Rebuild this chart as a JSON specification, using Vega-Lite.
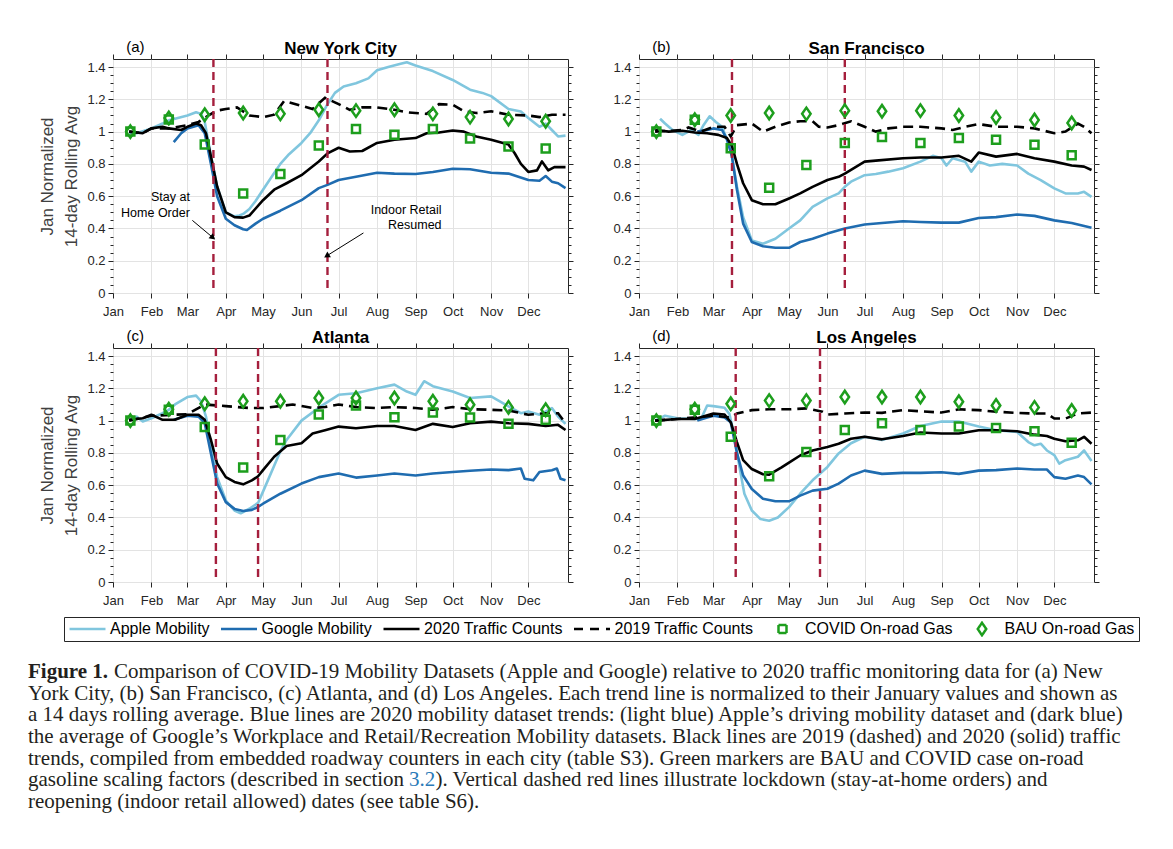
{
"$schema": "https://vega.github.io/schema/vega-lite/v6.json",
"usermeta": {"embedOptions": {"actions": false}},
"background": "white",
"padding": {"left": 28, "top": 39, "right": 5, "bottom": 5},
"config": {
  "font": "Liberation Sans",
  "view": {"stroke": "#262626", "strokeWidth": 1},
  "axis": {"domain": false, "tickColor": "#262626", "tickWidth": 1, "tickSize": 5, "labelColor": "#262626", "labelFontSize": 13, "labelFont": "Liberation Sans", "gridColor": "#e3e3e3", "gridWidth": 1, "titleFont": "Liberation Sans", "titleFontWeight": "normal", "titleColor": "#404040", "titleFontSize": 17}
},
"datasets": {
"events": [
{"city":"NYC","date":"2020-03-22"},{"city":"NYC","date":"2020-06-22"},
{"city":"SF","date":"2020-03-16"},{"city":"SF","date":"2020-06-15"},
{"city":"ATL","date":"2020-03-24"},{"city":"ATL","date":"2020-04-27"},
{"city":"LA","date":"2020-03-19"},{"city":"LA","date":"2020-05-26"}
],
"panels": [
{"city":"NYC","label":"(a)","title":"New York City"},{"city":"SF","label":"(b)","title":"San Francisco"},{"city":"ATL","label":"(c)","title":"Atlanta"},{"city":"LA","label":"(d)","title":"Los Angeles"}
],
"notes": [
{"text":"Stay at","date":"2020-03-03","value":0.596},
{"text":"Home Order","date":"2020-03-03","value":0.496},
{"text":"Indoor Retail","date":"2020-09-22","value":0.513},
{"text":"Resumed","date":"2020-09-22","value":0.42}
],
"arrows": [
{"id":1,"date":"2020-03-05","value":0.45,"date2":"2020-03-21","value2":0.347},
{"id":2,"date":"2020-07-21","value":0.372,"date2":"2020-06-22","value2":0.233}
],
"caption": [
{"line":1,"part":"bold","text":"Figure 1."},
{"line":1,"part":"first","text":"Comparison of COVID-19 Mobility Datasets (Apple and Google) relative to 2020 traffic monitoring data for (a) New"},
{"line":2,"part":"body","text":"York City, (b) San Francisco, (c) Atlanta, and (d) Los Angeles. Each trend line is normalized to their January values and shown as"},
{"line":3,"part":"body","text":"a 14 days rolling average. Blue lines are 2020 mobility dataset trends: (light blue) Apple’s driving mobility dataset and (dark blue)"},
{"line":4,"part":"body","text":"the average of Google’s Workplace and Retail/Recreation Mobility datasets. Black lines are 2019 (dashed) and 2020 (solid) traffic"},
{"line":5,"part":"body","text":"trends, compiled from embedded roadway counters in each city (table S3). Green markers are BAU and COVID case on-road"},
{"line":6,"part":"body","text":"gasoline scaling factors (described in section"},
{"line":6,"part":"link","text":"3.2"},
{"line":6,"part":"after","text":"). Vertical dashed red lines illustrate lockdown (stay-at-home orders) and"},
{"line":7,"part":"body","text":"reopening (indoor retail allowed) dates (see table S6)."}
],
"series": [
{"city":"NYC","series":"Apple Mobility","date":"2020-01-14","value":0.99},
{"city":"NYC","series":"Apple Mobility","date":"2020-01-20","value":0.99},
{"city":"NYC","series":"Apple Mobility","date":"2020-02-01","value":1.02},
{"city":"NYC","series":"Apple Mobility","date":"2020-02-10","value":1.05},
{"city":"NYC","series":"Apple Mobility","date":"2020-02-15","value":1.07},
{"city":"NYC","series":"Apple Mobility","date":"2020-02-20","value":1.08},
{"city":"NYC","series":"Apple Mobility","date":"2020-03-01","value":1.10},
{"city":"NYC","series":"Apple Mobility","date":"2020-03-08","value":1.12},
{"city":"NYC","series":"Apple Mobility","date":"2020-03-12","value":1.11},
{"city":"NYC","series":"Apple Mobility","date":"2020-03-15","value":1.06},
{"city":"NYC","series":"Apple Mobility","date":"2020-03-20","value":0.85},
{"city":"NYC","series":"Apple Mobility","date":"2020-03-25","value":0.66},
{"city":"NYC","series":"Apple Mobility","date":"2020-04-01","value":0.50},
{"city":"NYC","series":"Apple Mobility","date":"2020-04-08","value":0.475},
{"city":"NYC","series":"Apple Mobility","date":"2020-04-12","value":0.48},
{"city":"NYC","series":"Apple Mobility","date":"2020-04-15","value":0.49},
{"city":"NYC","series":"Apple Mobility","date":"2020-04-20","value":0.52},
{"city":"NYC","series":"Apple Mobility","date":"2020-04-25","value":0.57},
{"city":"NYC","series":"Apple Mobility","date":"2020-05-01","value":0.64},
{"city":"NYC","series":"Apple Mobility","date":"2020-05-08","value":0.72},
{"city":"NYC","series":"Apple Mobility","date":"2020-05-15","value":0.80},
{"city":"NYC","series":"Apple Mobility","date":"2020-05-22","value":0.86},
{"city":"NYC","series":"Apple Mobility","date":"2020-06-01","value":0.93},
{"city":"NYC","series":"Apple Mobility","date":"2020-06-08","value":0.99},
{"city":"NYC","series":"Apple Mobility","date":"2020-06-15","value":1.07},
{"city":"NYC","series":"Apple Mobility","date":"2020-06-22","value":1.17},
{"city":"NYC","series":"Apple Mobility","date":"2020-06-28","value":1.24},
{"city":"NYC","series":"Apple Mobility","date":"2020-07-05","value":1.28},
{"city":"NYC","series":"Apple Mobility","date":"2020-07-15","value":1.30},
{"city":"NYC","series":"Apple Mobility","date":"2020-07-25","value":1.33},
{"city":"NYC","series":"Apple Mobility","date":"2020-08-01","value":1.38},
{"city":"NYC","series":"Apple Mobility","date":"2020-08-10","value":1.40},
{"city":"NYC","series":"Apple Mobility","date":"2020-08-20","value":1.42},
{"city":"NYC","series":"Apple Mobility","date":"2020-08-25","value":1.43},
{"city":"NYC","series":"Apple Mobility","date":"2020-09-01","value":1.41},
{"city":"NYC","series":"Apple Mobility","date":"2020-09-15","value":1.375},
{"city":"NYC","series":"Apple Mobility","date":"2020-10-01","value":1.32},
{"city":"NYC","series":"Apple Mobility","date":"2020-10-15","value":1.26},
{"city":"NYC","series":"Apple Mobility","date":"2020-10-25","value":1.24},
{"city":"NYC","series":"Apple Mobility","date":"2020-11-01","value":1.22},
{"city":"NYC","series":"Apple Mobility","date":"2020-11-15","value":1.14},
{"city":"NYC","series":"Apple Mobility","date":"2020-11-25","value":1.125},
{"city":"NYC","series":"Apple Mobility","date":"2020-12-01","value":1.085},
{"city":"NYC","series":"Apple Mobility","date":"2020-12-10","value":1.03},
{"city":"NYC","series":"Apple Mobility","date":"2020-12-15","value":1.05},
{"city":"NYC","series":"Apple Mobility","date":"2020-12-20","value":1.01},
{"city":"NYC","series":"Apple Mobility","date":"2020-12-25","value":0.97},
{"city":"NYC","series":"Apple Mobility","date":"2020-12-31","value":0.975},
{"city":"NYC","series":"Google Mobility","date":"2020-02-19","value":0.935},
{"city":"NYC","series":"Google Mobility","date":"2020-02-25","value":0.99},
{"city":"NYC","series":"Google Mobility","date":"2020-03-01","value":1.02},
{"city":"NYC","series":"Google Mobility","date":"2020-03-10","value":1.04},
{"city":"NYC","series":"Google Mobility","date":"2020-03-15","value":0.99},
{"city":"NYC","series":"Google Mobility","date":"2020-03-20","value":0.80},
{"city":"NYC","series":"Google Mobility","date":"2020-03-25","value":0.60},
{"city":"NYC","series":"Google Mobility","date":"2020-04-01","value":0.46},
{"city":"NYC","series":"Google Mobility","date":"2020-04-08","value":0.42},
{"city":"NYC","series":"Google Mobility","date":"2020-04-15","value":0.395},
{"city":"NYC","series":"Google Mobility","date":"2020-04-18","value":0.39},
{"city":"NYC","series":"Google Mobility","date":"2020-04-25","value":0.43},
{"city":"NYC","series":"Google Mobility","date":"2020-05-01","value":0.46},
{"city":"NYC","series":"Google Mobility","date":"2020-05-15","value":0.51},
{"city":"NYC","series":"Google Mobility","date":"2020-06-01","value":0.575},
{"city":"NYC","series":"Google Mobility","date":"2020-06-15","value":0.65},
{"city":"NYC","series":"Google Mobility","date":"2020-06-22","value":0.67},
{"city":"NYC","series":"Google Mobility","date":"2020-07-01","value":0.70},
{"city":"NYC","series":"Google Mobility","date":"2020-07-15","value":0.72},
{"city":"NYC","series":"Google Mobility","date":"2020-08-01","value":0.745},
{"city":"NYC","series":"Google Mobility","date":"2020-08-15","value":0.74},
{"city":"NYC","series":"Google Mobility","date":"2020-09-01","value":0.737},
{"city":"NYC","series":"Google Mobility","date":"2020-09-15","value":0.75},
{"city":"NYC","series":"Google Mobility","date":"2020-10-01","value":0.77},
{"city":"NYC","series":"Google Mobility","date":"2020-10-15","value":0.767},
{"city":"NYC","series":"Google Mobility","date":"2020-11-01","value":0.745},
{"city":"NYC","series":"Google Mobility","date":"2020-11-15","value":0.74},
{"city":"NYC","series":"Google Mobility","date":"2020-12-01","value":0.70},
{"city":"NYC","series":"Google Mobility","date":"2020-12-10","value":0.696},
{"city":"NYC","series":"Google Mobility","date":"2020-12-15","value":0.725},
{"city":"NYC","series":"Google Mobility","date":"2020-12-20","value":0.69},
{"city":"NYC","series":"Google Mobility","date":"2020-12-25","value":0.68},
{"city":"NYC","series":"Google Mobility","date":"2020-12-31","value":0.65},
{"city":"NYC","series":"2020 Traffic Counts","date":"2020-01-14","value":1.0},
{"city":"NYC","series":"2020 Traffic Counts","date":"2020-01-25","value":0.99},
{"city":"NYC","series":"2020 Traffic Counts","date":"2020-02-01","value":1.02},
{"city":"NYC","series":"2020 Traffic Counts","date":"2020-02-10","value":1.03},
{"city":"NYC","series":"2020 Traffic Counts","date":"2020-02-15","value":1.02},
{"city":"NYC","series":"2020 Traffic Counts","date":"2020-02-25","value":1.01},
{"city":"NYC","series":"2020 Traffic Counts","date":"2020-03-01","value":1.03},
{"city":"NYC","series":"2020 Traffic Counts","date":"2020-03-08","value":1.05},
{"city":"NYC","series":"2020 Traffic Counts","date":"2020-03-12","value":1.04},
{"city":"NYC","series":"2020 Traffic Counts","date":"2020-03-16","value":0.99},
{"city":"NYC","series":"2020 Traffic Counts","date":"2020-03-20","value":0.845},
{"city":"NYC","series":"2020 Traffic Counts","date":"2020-03-25","value":0.66},
{"city":"NYC","series":"2020 Traffic Counts","date":"2020-04-01","value":0.50},
{"city":"NYC","series":"2020 Traffic Counts","date":"2020-04-08","value":0.47},
{"city":"NYC","series":"2020 Traffic Counts","date":"2020-04-15","value":0.467},
{"city":"NYC","series":"2020 Traffic Counts","date":"2020-04-20","value":0.48},
{"city":"NYC","series":"2020 Traffic Counts","date":"2020-05-01","value":0.575},
{"city":"NYC","series":"2020 Traffic Counts","date":"2020-05-10","value":0.64},
{"city":"NYC","series":"2020 Traffic Counts","date":"2020-05-20","value":0.68},
{"city":"NYC","series":"2020 Traffic Counts","date":"2020-06-01","value":0.73},
{"city":"NYC","series":"2020 Traffic Counts","date":"2020-06-15","value":0.815},
{"city":"NYC","series":"2020 Traffic Counts","date":"2020-06-22","value":0.865},
{"city":"NYC","series":"2020 Traffic Counts","date":"2020-07-01","value":0.90},
{"city":"NYC","series":"2020 Traffic Counts","date":"2020-07-10","value":0.877},
{"city":"NYC","series":"2020 Traffic Counts","date":"2020-07-20","value":0.88},
{"city":"NYC","series":"2020 Traffic Counts","date":"2020-08-01","value":0.93},
{"city":"NYC","series":"2020 Traffic Counts","date":"2020-08-15","value":0.95},
{"city":"NYC","series":"2020 Traffic Counts","date":"2020-09-01","value":0.96},
{"city":"NYC","series":"2020 Traffic Counts","date":"2020-09-10","value":0.99},
{"city":"NYC","series":"2020 Traffic Counts","date":"2020-09-20","value":0.995},
{"city":"NYC","series":"2020 Traffic Counts","date":"2020-10-01","value":1.007},
{"city":"NYC","series":"2020 Traffic Counts","date":"2020-10-10","value":1.0},
{"city":"NYC","series":"2020 Traffic Counts","date":"2020-10-20","value":0.97},
{"city":"NYC","series":"2020 Traffic Counts","date":"2020-11-01","value":0.95},
{"city":"NYC","series":"2020 Traffic Counts","date":"2020-11-15","value":0.92},
{"city":"NYC","series":"2020 Traffic Counts","date":"2020-11-20","value":0.866},
{"city":"NYC","series":"2020 Traffic Counts","date":"2020-11-25","value":0.80},
{"city":"NYC","series":"2020 Traffic Counts","date":"2020-12-01","value":0.75},
{"city":"NYC","series":"2020 Traffic Counts","date":"2020-12-08","value":0.76},
{"city":"NYC","series":"2020 Traffic Counts","date":"2020-12-12","value":0.815},
{"city":"NYC","series":"2020 Traffic Counts","date":"2020-12-17","value":0.76},
{"city":"NYC","series":"2020 Traffic Counts","date":"2020-12-22","value":0.78},
{"city":"NYC","series":"2020 Traffic Counts","date":"2020-12-31","value":0.78},
{"city":"NYC","series":"2019 Traffic Counts","date":"2020-01-14","value":1.0},
{"city":"NYC","series":"2019 Traffic Counts","date":"2020-01-25","value":0.99},
{"city":"NYC","series":"2019 Traffic Counts","date":"2020-02-01","value":1.02},
{"city":"NYC","series":"2019 Traffic Counts","date":"2020-02-15","value":1.02},
{"city":"NYC","series":"2019 Traffic Counts","date":"2020-03-01","value":1.04},
{"city":"NYC","series":"2019 Traffic Counts","date":"2020-03-10","value":1.06},
{"city":"NYC","series":"2019 Traffic Counts","date":"2020-03-18","value":1.10},
{"city":"NYC","series":"2019 Traffic Counts","date":"2020-03-25","value":1.13},
{"city":"NYC","series":"2019 Traffic Counts","date":"2020-04-01","value":1.14},
{"city":"NYC","series":"2019 Traffic Counts","date":"2020-04-10","value":1.15},
{"city":"NYC","series":"2019 Traffic Counts","date":"2020-04-20","value":1.10},
{"city":"NYC","series":"2019 Traffic Counts","date":"2020-05-01","value":1.09},
{"city":"NYC","series":"2019 Traffic Counts","date":"2020-05-10","value":1.105},
{"city":"NYC","series":"2019 Traffic Counts","date":"2020-05-18","value":1.19},
{"city":"NYC","series":"2019 Traffic Counts","date":"2020-06-01","value":1.16},
{"city":"NYC","series":"2019 Traffic Counts","date":"2020-06-10","value":1.14},
{"city":"NYC","series":"2019 Traffic Counts","date":"2020-06-20","value":1.21},
{"city":"NYC","series":"2019 Traffic Counts","date":"2020-07-01","value":1.17},
{"city":"NYC","series":"2019 Traffic Counts","date":"2020-07-10","value":1.135},
{"city":"NYC","series":"2019 Traffic Counts","date":"2020-07-20","value":1.15},
{"city":"NYC","series":"2019 Traffic Counts","date":"2020-08-01","value":1.15},
{"city":"NYC","series":"2019 Traffic Counts","date":"2020-08-15","value":1.135},
{"city":"NYC","series":"2019 Traffic Counts","date":"2020-08-25","value":1.12},
{"city":"NYC","series":"2019 Traffic Counts","date":"2020-09-01","value":1.115},
{"city":"NYC","series":"2019 Traffic Counts","date":"2020-09-10","value":1.11},
{"city":"NYC","series":"2019 Traffic Counts","date":"2020-09-20","value":1.17},
{"city":"NYC","series":"2019 Traffic Counts","date":"2020-10-01","value":1.167},
{"city":"NYC","series":"2019 Traffic Counts","date":"2020-10-10","value":1.126},
{"city":"NYC","series":"2019 Traffic Counts","date":"2020-10-20","value":1.115},
{"city":"NYC","series":"2019 Traffic Counts","date":"2020-11-01","value":1.126},
{"city":"NYC","series":"2019 Traffic Counts","date":"2020-11-15","value":1.105},
{"city":"NYC","series":"2019 Traffic Counts","date":"2020-12-01","value":1.10},
{"city":"NYC","series":"2019 Traffic Counts","date":"2020-12-10","value":1.09},
{"city":"NYC","series":"2019 Traffic Counts","date":"2020-12-20","value":1.105},
{"city":"NYC","series":"2019 Traffic Counts","date":"2020-12-31","value":1.105},
{"city":"SF","series":"Apple Mobility","date":"2020-01-18","value":1.08},
{"city":"SF","series":"Apple Mobility","date":"2020-01-22","value":1.05},
{"city":"SF","series":"Apple Mobility","date":"2020-01-28","value":1.01},
{"city":"SF","series":"Apple Mobility","date":"2020-02-05","value":0.98},
{"city":"SF","series":"Apple Mobility","date":"2020-02-12","value":1.01},
{"city":"SF","series":"Apple Mobility","date":"2020-02-18","value":0.98},
{"city":"SF","series":"Apple Mobility","date":"2020-02-22","value":1.04},
{"city":"SF","series":"Apple Mobility","date":"2020-02-27","value":1.095},
{"city":"SF","series":"Apple Mobility","date":"2020-03-03","value":1.06},
{"city":"SF","series":"Apple Mobility","date":"2020-03-08","value":1.03},
{"city":"SF","series":"Apple Mobility","date":"2020-03-12","value":0.95},
{"city":"SF","series":"Apple Mobility","date":"2020-03-15","value":0.89},
{"city":"SF","series":"Apple Mobility","date":"2020-03-20","value":0.66},
{"city":"SF","series":"Apple Mobility","date":"2020-03-25","value":0.47},
{"city":"SF","series":"Apple Mobility","date":"2020-04-01","value":0.326},
{"city":"SF","series":"Apple Mobility","date":"2020-04-10","value":0.305},
{"city":"SF","series":"Apple Mobility","date":"2020-04-20","value":0.336},
{"city":"SF","series":"Apple Mobility","date":"2020-05-01","value":0.40},
{"city":"SF","series":"Apple Mobility","date":"2020-05-10","value":0.45},
{"city":"SF","series":"Apple Mobility","date":"2020-05-20","value":0.534},
{"city":"SF","series":"Apple Mobility","date":"2020-06-01","value":0.586},
{"city":"SF","series":"Apple Mobility","date":"2020-06-10","value":0.617},
{"city":"SF","series":"Apple Mobility","date":"2020-06-15","value":0.658},
{"city":"SF","series":"Apple Mobility","date":"2020-06-20","value":0.69},
{"city":"SF","series":"Apple Mobility","date":"2020-07-01","value":0.73},
{"city":"SF","series":"Apple Mobility","date":"2020-07-10","value":0.737},
{"city":"SF","series":"Apple Mobility","date":"2020-07-20","value":0.752},
{"city":"SF","series":"Apple Mobility","date":"2020-08-01","value":0.773},
{"city":"SF","series":"Apple Mobility","date":"2020-08-15","value":0.814},
{"city":"SF","series":"Apple Mobility","date":"2020-08-25","value":0.85},
{"city":"SF","series":"Apple Mobility","date":"2020-09-01","value":0.835},
{"city":"SF","series":"Apple Mobility","date":"2020-09-05","value":0.79},
{"city":"SF","series":"Apple Mobility","date":"2020-09-10","value":0.835},
{"city":"SF","series":"Apple Mobility","date":"2020-09-20","value":0.814},
{"city":"SF","series":"Apple Mobility","date":"2020-09-25","value":0.752},
{"city":"SF","series":"Apple Mobility","date":"2020-10-01","value":0.814},
{"city":"SF","series":"Apple Mobility","date":"2020-10-10","value":0.79},
{"city":"SF","series":"Apple Mobility","date":"2020-10-20","value":0.80},
{"city":"SF","series":"Apple Mobility","date":"2020-11-01","value":0.79},
{"city":"SF","series":"Apple Mobility","date":"2020-11-10","value":0.74},
{"city":"SF","series":"Apple Mobility","date":"2020-11-20","value":0.70},
{"city":"SF","series":"Apple Mobility","date":"2020-12-01","value":0.648},
{"city":"SF","series":"Apple Mobility","date":"2020-12-10","value":0.617},
{"city":"SF","series":"Apple Mobility","date":"2020-12-20","value":0.617},
{"city":"SF","series":"Apple Mobility","date":"2020-12-25","value":0.627},
{"city":"SF","series":"Apple Mobility","date":"2020-12-31","value":0.596},
{"city":"SF","series":"Google Mobility","date":"2020-02-17","value":1.0},
{"city":"SF","series":"Google Mobility","date":"2020-02-25","value":1.01},
{"city":"SF","series":"Google Mobility","date":"2020-03-01","value":1.02},
{"city":"SF","series":"Google Mobility","date":"2020-03-08","value":1.01},
{"city":"SF","series":"Google Mobility","date":"2020-03-12","value":0.95},
{"city":"SF","series":"Google Mobility","date":"2020-03-16","value":0.845},
{"city":"SF","series":"Google Mobility","date":"2020-03-20","value":0.64},
{"city":"SF","series":"Google Mobility","date":"2020-03-25","value":0.43},
{"city":"SF","series":"Google Mobility","date":"2020-04-01","value":0.316},
{"city":"SF","series":"Google Mobility","date":"2020-04-10","value":0.29},
{"city":"SF","series":"Google Mobility","date":"2020-04-20","value":0.28},
{"city":"SF","series":"Google Mobility","date":"2020-05-01","value":0.28},
{"city":"SF","series":"Google Mobility","date":"2020-05-10","value":0.316},
{"city":"SF","series":"Google Mobility","date":"2020-05-20","value":0.336},
{"city":"SF","series":"Google Mobility","date":"2020-06-01","value":0.368},
{"city":"SF","series":"Google Mobility","date":"2020-06-15","value":0.40},
{"city":"SF","series":"Google Mobility","date":"2020-07-01","value":0.424},
{"city":"SF","series":"Google Mobility","date":"2020-07-15","value":0.434},
{"city":"SF","series":"Google Mobility","date":"2020-08-01","value":0.445},
{"city":"SF","series":"Google Mobility","date":"2020-08-15","value":0.44},
{"city":"SF","series":"Google Mobility","date":"2020-09-01","value":0.436},
{"city":"SF","series":"Google Mobility","date":"2020-09-15","value":0.436},
{"city":"SF","series":"Google Mobility","date":"2020-10-01","value":0.465},
{"city":"SF","series":"Google Mobility","date":"2020-10-15","value":0.47},
{"city":"SF","series":"Google Mobility","date":"2020-11-01","value":0.486},
{"city":"SF","series":"Google Mobility","date":"2020-11-15","value":0.478},
{"city":"SF","series":"Google Mobility","date":"2020-12-01","value":0.45},
{"city":"SF","series":"Google Mobility","date":"2020-12-15","value":0.434},
{"city":"SF","series":"Google Mobility","date":"2020-12-31","value":0.405},
{"city":"SF","series":"2020 Traffic Counts","date":"2020-01-14","value":1.01},
{"city":"SF","series":"2020 Traffic Counts","date":"2020-01-25","value":1.0},
{"city":"SF","series":"2020 Traffic Counts","date":"2020-02-05","value":1.005},
{"city":"SF","series":"2020 Traffic Counts","date":"2020-02-15","value":0.995},
{"city":"SF","series":"2020 Traffic Counts","date":"2020-02-25","value":0.99},
{"city":"SF","series":"2020 Traffic Counts","date":"2020-03-05","value":0.98},
{"city":"SF","series":"2020 Traffic Counts","date":"2020-03-12","value":0.96},
{"city":"SF","series":"2020 Traffic Counts","date":"2020-03-16","value":0.91},
{"city":"SF","series":"2020 Traffic Counts","date":"2020-03-20","value":0.80},
{"city":"SF","series":"2020 Traffic Counts","date":"2020-03-25","value":0.68},
{"city":"SF","series":"2020 Traffic Counts","date":"2020-04-01","value":0.575},
{"city":"SF","series":"2020 Traffic Counts","date":"2020-04-10","value":0.55},
{"city":"SF","series":"2020 Traffic Counts","date":"2020-04-20","value":0.55},
{"city":"SF","series":"2020 Traffic Counts","date":"2020-05-01","value":0.586},
{"city":"SF","series":"2020 Traffic Counts","date":"2020-05-10","value":0.617},
{"city":"SF","series":"2020 Traffic Counts","date":"2020-05-20","value":0.658},
{"city":"SF","series":"2020 Traffic Counts","date":"2020-06-01","value":0.70},
{"city":"SF","series":"2020 Traffic Counts","date":"2020-06-10","value":0.72},
{"city":"SF","series":"2020 Traffic Counts","date":"2020-06-15","value":0.74},
{"city":"SF","series":"2020 Traffic Counts","date":"2020-07-01","value":0.814},
{"city":"SF","series":"2020 Traffic Counts","date":"2020-07-10","value":0.82},
{"city":"SF","series":"2020 Traffic Counts","date":"2020-08-01","value":0.835},
{"city":"SF","series":"2020 Traffic Counts","date":"2020-08-15","value":0.84},
{"city":"SF","series":"2020 Traffic Counts","date":"2020-09-01","value":0.84},
{"city":"SF","series":"2020 Traffic Counts","date":"2020-09-15","value":0.85},
{"city":"SF","series":"2020 Traffic Counts","date":"2020-09-25","value":0.814},
{"city":"SF","series":"2020 Traffic Counts","date":"2020-10-01","value":0.87},
{"city":"SF","series":"2020 Traffic Counts","date":"2020-10-15","value":0.845},
{"city":"SF","series":"2020 Traffic Counts","date":"2020-11-01","value":0.862},
{"city":"SF","series":"2020 Traffic Counts","date":"2020-11-15","value":0.835},
{"city":"SF","series":"2020 Traffic Counts","date":"2020-12-01","value":0.814},
{"city":"SF","series":"2020 Traffic Counts","date":"2020-12-15","value":0.79},
{"city":"SF","series":"2020 Traffic Counts","date":"2020-12-25","value":0.783},
{"city":"SF","series":"2020 Traffic Counts","date":"2020-12-31","value":0.762},
{"city":"SF","series":"2019 Traffic Counts","date":"2020-01-14","value":1.0},
{"city":"SF","series":"2019 Traffic Counts","date":"2020-02-05","value":1.01},
{"city":"SF","series":"2019 Traffic Counts","date":"2020-02-10","value":1.026},
{"city":"SF","series":"2019 Traffic Counts","date":"2020-02-20","value":1.0},
{"city":"SF","series":"2019 Traffic Counts","date":"2020-03-01","value":1.03},
{"city":"SF","series":"2019 Traffic Counts","date":"2020-03-10","value":1.03},
{"city":"SF","series":"2019 Traffic Counts","date":"2020-03-15","value":0.97},
{"city":"SF","series":"2019 Traffic Counts","date":"2020-03-20","value":1.04},
{"city":"SF","series":"2019 Traffic Counts","date":"2020-04-01","value":1.05},
{"city":"SF","series":"2019 Traffic Counts","date":"2020-04-10","value":1.0},
{"city":"SF","series":"2019 Traffic Counts","date":"2020-04-20","value":1.03},
{"city":"SF","series":"2019 Traffic Counts","date":"2020-05-01","value":1.057},
{"city":"SF","series":"2019 Traffic Counts","date":"2020-05-10","value":1.064},
{"city":"SF","series":"2019 Traffic Counts","date":"2020-05-20","value":1.064},
{"city":"SF","series":"2019 Traffic Counts","date":"2020-05-25","value":1.03},
{"city":"SF","series":"2019 Traffic Counts","date":"2020-06-01","value":1.026},
{"city":"SF","series":"2019 Traffic Counts","date":"2020-06-10","value":1.04},
{"city":"SF","series":"2019 Traffic Counts","date":"2020-06-20","value":1.064},
{"city":"SF","series":"2019 Traffic Counts","date":"2020-07-01","value":1.03},
{"city":"SF","series":"2019 Traffic Counts","date":"2020-07-10","value":1.0},
{"city":"SF","series":"2019 Traffic Counts","date":"2020-07-20","value":1.02},
{"city":"SF","series":"2019 Traffic Counts","date":"2020-08-01","value":1.03},
{"city":"SF","series":"2019 Traffic Counts","date":"2020-08-15","value":1.03},
{"city":"SF","series":"2019 Traffic Counts","date":"2020-09-01","value":1.02},
{"city":"SF","series":"2019 Traffic Counts","date":"2020-09-10","value":1.01},
{"city":"SF","series":"2019 Traffic Counts","date":"2020-09-20","value":1.03},
{"city":"SF","series":"2019 Traffic Counts","date":"2020-10-01","value":1.047},
{"city":"SF","series":"2019 Traffic Counts","date":"2020-10-15","value":1.03},
{"city":"SF","series":"2019 Traffic Counts","date":"2020-11-01","value":1.03},
{"city":"SF","series":"2019 Traffic Counts","date":"2020-11-15","value":1.02},
{"city":"SF","series":"2019 Traffic Counts","date":"2020-12-01","value":0.99},
{"city":"SF","series":"2019 Traffic Counts","date":"2020-12-10","value":1.0},
{"city":"SF","series":"2019 Traffic Counts","date":"2020-12-20","value":1.05},
{"city":"SF","series":"2019 Traffic Counts","date":"2020-12-25","value":1.03},
{"city":"SF","series":"2019 Traffic Counts","date":"2020-12-31","value":0.99},
{"city":"ATL","series":"Apple Mobility","date":"2020-01-14","value":1.005},
{"city":"ATL","series":"Apple Mobility","date":"2020-01-20","value":1.025},
{"city":"ATL","series":"Apple Mobility","date":"2020-01-25","value":0.995},
{"city":"ATL","series":"Apple Mobility","date":"2020-02-01","value":1.015},
{"city":"ATL","series":"Apple Mobility","date":"2020-02-10","value":1.046},
{"city":"ATL","series":"Apple Mobility","date":"2020-02-15","value":1.067},
{"city":"ATL","series":"Apple Mobility","date":"2020-02-20","value":1.10},
{"city":"ATL","series":"Apple Mobility","date":"2020-03-01","value":1.146},
{"city":"ATL","series":"Apple Mobility","date":"2020-03-08","value":1.155},
{"city":"ATL","series":"Apple Mobility","date":"2020-03-12","value":1.12},
{"city":"ATL","series":"Apple Mobility","date":"2020-03-16","value":1.025},
{"city":"ATL","series":"Apple Mobility","date":"2020-03-20","value":0.84},
{"city":"ATL","series":"Apple Mobility","date":"2020-03-25","value":0.65},
{"city":"ATL","series":"Apple Mobility","date":"2020-04-01","value":0.505},
{"city":"ATL","series":"Apple Mobility","date":"2020-04-08","value":0.443},
{"city":"ATL","series":"Apple Mobility","date":"2020-04-13","value":0.426},
{"city":"ATL","series":"Apple Mobility","date":"2020-04-20","value":0.454},
{"city":"ATL","series":"Apple Mobility","date":"2020-04-27","value":0.49},
{"city":"ATL","series":"Apple Mobility","date":"2020-05-01","value":0.56},
{"city":"ATL","series":"Apple Mobility","date":"2020-05-10","value":0.72},
{"city":"ATL","series":"Apple Mobility","date":"2020-05-15","value":0.81},
{"city":"ATL","series":"Apple Mobility","date":"2020-05-20","value":0.88},
{"city":"ATL","series":"Apple Mobility","date":"2020-06-01","value":1.0},
{"city":"ATL","series":"Apple Mobility","date":"2020-06-15","value":1.08},
{"city":"ATL","series":"Apple Mobility","date":"2020-07-01","value":1.16},
{"city":"ATL","series":"Apple Mobility","date":"2020-07-15","value":1.17},
{"city":"ATL","series":"Apple Mobility","date":"2020-08-01","value":1.20},
{"city":"ATL","series":"Apple Mobility","date":"2020-08-15","value":1.223},
{"city":"ATL","series":"Apple Mobility","date":"2020-08-25","value":1.18},
{"city":"ATL","series":"Apple Mobility","date":"2020-09-01","value":1.16},
{"city":"ATL","series":"Apple Mobility","date":"2020-09-08","value":1.244},
{"city":"ATL","series":"Apple Mobility","date":"2020-09-15","value":1.213},
{"city":"ATL","series":"Apple Mobility","date":"2020-10-01","value":1.18},
{"city":"ATL","series":"Apple Mobility","date":"2020-10-15","value":1.14},
{"city":"ATL","series":"Apple Mobility","date":"2020-11-01","value":1.15},
{"city":"ATL","series":"Apple Mobility","date":"2020-11-15","value":1.088},
{"city":"ATL","series":"Apple Mobility","date":"2020-11-25","value":1.046},
{"city":"ATL","series":"Apple Mobility","date":"2020-12-01","value":1.057},
{"city":"ATL","series":"Apple Mobility","date":"2020-12-10","value":1.036},
{"city":"ATL","series":"Apple Mobility","date":"2020-12-20","value":1.078},
{"city":"ATL","series":"Apple Mobility","date":"2020-12-25","value":1.025},
{"city":"ATL","series":"Apple Mobility","date":"2020-12-31","value":0.98},
{"city":"ATL","series":"Google Mobility","date":"2020-02-19","value":1.005},
{"city":"ATL","series":"Google Mobility","date":"2020-03-01","value":1.03},
{"city":"ATL","series":"Google Mobility","date":"2020-03-10","value":1.025},
{"city":"ATL","series":"Google Mobility","date":"2020-03-15","value":0.984},
{"city":"ATL","series":"Google Mobility","date":"2020-03-20","value":0.797},
{"city":"ATL","series":"Google Mobility","date":"2020-03-25","value":0.61},
{"city":"ATL","series":"Google Mobility","date":"2020-04-01","value":0.495},
{"city":"ATL","series":"Google Mobility","date":"2020-04-08","value":0.453},
{"city":"ATL","series":"Google Mobility","date":"2020-04-15","value":0.44},
{"city":"ATL","series":"Google Mobility","date":"2020-04-22","value":0.447},
{"city":"ATL","series":"Google Mobility","date":"2020-04-27","value":0.465},
{"city":"ATL","series":"Google Mobility","date":"2020-05-01","value":0.485},
{"city":"ATL","series":"Google Mobility","date":"2020-05-15","value":0.547},
{"city":"ATL","series":"Google Mobility","date":"2020-06-01","value":0.61},
{"city":"ATL","series":"Google Mobility","date":"2020-06-15","value":0.65},
{"city":"ATL","series":"Google Mobility","date":"2020-07-01","value":0.672},
{"city":"ATL","series":"Google Mobility","date":"2020-07-15","value":0.647},
{"city":"ATL","series":"Google Mobility","date":"2020-08-01","value":0.66},
{"city":"ATL","series":"Google Mobility","date":"2020-08-15","value":0.672},
{"city":"ATL","series":"Google Mobility","date":"2020-09-01","value":0.66},
{"city":"ATL","series":"Google Mobility","date":"2020-09-15","value":0.672},
{"city":"ATL","series":"Google Mobility","date":"2020-10-01","value":0.682},
{"city":"ATL","series":"Google Mobility","date":"2020-10-15","value":0.689},
{"city":"ATL","series":"Google Mobility","date":"2020-11-01","value":0.697},
{"city":"ATL","series":"Google Mobility","date":"2020-11-15","value":0.693},
{"city":"ATL","series":"Google Mobility","date":"2020-11-25","value":0.703},
{"city":"ATL","series":"Google Mobility","date":"2020-11-28","value":0.64},
{"city":"ATL","series":"Google Mobility","date":"2020-12-05","value":0.63},
{"city":"ATL","series":"Google Mobility","date":"2020-12-10","value":0.682},
{"city":"ATL","series":"Google Mobility","date":"2020-12-20","value":0.693},
{"city":"ATL","series":"Google Mobility","date":"2020-12-24","value":0.703},
{"city":"ATL","series":"Google Mobility","date":"2020-12-27","value":0.64},
{"city":"ATL","series":"Google Mobility","date":"2020-12-31","value":0.63},
{"city":"ATL","series":"2020 Traffic Counts","date":"2020-01-14","value":1.005},
{"city":"ATL","series":"2020 Traffic Counts","date":"2020-01-25","value":1.015},
{"city":"ATL","series":"2020 Traffic Counts","date":"2020-02-01","value":1.036},
{"city":"ATL","series":"2020 Traffic Counts","date":"2020-02-10","value":1.005},
{"city":"ATL","series":"2020 Traffic Counts","date":"2020-02-20","value":1.005},
{"city":"ATL","series":"2020 Traffic Counts","date":"2020-03-01","value":1.036},
{"city":"ATL","series":"2020 Traffic Counts","date":"2020-03-10","value":1.036},
{"city":"ATL","series":"2020 Traffic Counts","date":"2020-03-15","value":1.005},
{"city":"ATL","series":"2020 Traffic Counts","date":"2020-03-20","value":0.88},
{"city":"ATL","series":"2020 Traffic Counts","date":"2020-03-25","value":0.734},
{"city":"ATL","series":"2020 Traffic Counts","date":"2020-04-01","value":0.65},
{"city":"ATL","series":"2020 Traffic Counts","date":"2020-04-08","value":0.62},
{"city":"ATL","series":"2020 Traffic Counts","date":"2020-04-15","value":0.605},
{"city":"ATL","series":"2020 Traffic Counts","date":"2020-04-22","value":0.63},
{"city":"ATL","series":"2020 Traffic Counts","date":"2020-04-27","value":0.655},
{"city":"ATL","series":"2020 Traffic Counts","date":"2020-05-01","value":0.693},
{"city":"ATL","series":"2020 Traffic Counts","date":"2020-05-10","value":0.776},
{"city":"ATL","series":"2020 Traffic Counts","date":"2020-05-20","value":0.843},
{"city":"ATL","series":"2020 Traffic Counts","date":"2020-06-01","value":0.86},
{"city":"ATL","series":"2020 Traffic Counts","date":"2020-06-10","value":0.92},
{"city":"ATL","series":"2020 Traffic Counts","date":"2020-06-20","value":0.94},
{"city":"ATL","series":"2020 Traffic Counts","date":"2020-07-01","value":0.963},
{"city":"ATL","series":"2020 Traffic Counts","date":"2020-07-15","value":0.953},
{"city":"ATL","series":"2020 Traffic Counts","date":"2020-08-01","value":0.967},
{"city":"ATL","series":"2020 Traffic Counts","date":"2020-08-15","value":0.967},
{"city":"ATL","series":"2020 Traffic Counts","date":"2020-09-01","value":0.942},
{"city":"ATL","series":"2020 Traffic Counts","date":"2020-09-15","value":0.98},
{"city":"ATL","series":"2020 Traffic Counts","date":"2020-10-01","value":0.96},
{"city":"ATL","series":"2020 Traffic Counts","date":"2020-10-15","value":0.984},
{"city":"ATL","series":"2020 Traffic Counts","date":"2020-11-01","value":0.994},
{"city":"ATL","series":"2020 Traffic Counts","date":"2020-11-15","value":0.984},
{"city":"ATL","series":"2020 Traffic Counts","date":"2020-12-01","value":0.98},
{"city":"ATL","series":"2020 Traffic Counts","date":"2020-12-15","value":0.967},
{"city":"ATL","series":"2020 Traffic Counts","date":"2020-12-25","value":0.974},
{"city":"ATL","series":"2020 Traffic Counts","date":"2020-12-31","value":0.942},
{"city":"ATL","series":"2019 Traffic Counts","date":"2020-01-14","value":1.0},
{"city":"ATL","series":"2019 Traffic Counts","date":"2020-02-01","value":1.03},
{"city":"ATL","series":"2019 Traffic Counts","date":"2020-03-01","value":1.04},
{"city":"ATL","series":"2019 Traffic Counts","date":"2020-03-15","value":1.10},
{"city":"ATL","series":"2019 Traffic Counts","date":"2020-04-01","value":1.09},
{"city":"ATL","series":"2019 Traffic Counts","date":"2020-04-10","value":1.084},
{"city":"ATL","series":"2019 Traffic Counts","date":"2020-04-20","value":1.078},
{"city":"ATL","series":"2019 Traffic Counts","date":"2020-05-01","value":1.078},
{"city":"ATL","series":"2019 Traffic Counts","date":"2020-05-15","value":1.09},
{"city":"ATL","series":"2019 Traffic Counts","date":"2020-05-25","value":1.10},
{"city":"ATL","series":"2019 Traffic Counts","date":"2020-06-10","value":1.078},
{"city":"ATL","series":"2019 Traffic Counts","date":"2020-06-20","value":1.084},
{"city":"ATL","series":"2019 Traffic Counts","date":"2020-07-01","value":1.10},
{"city":"ATL","series":"2019 Traffic Counts","date":"2020-07-15","value":1.084},
{"city":"ATL","series":"2019 Traffic Counts","date":"2020-08-01","value":1.078},
{"city":"ATL","series":"2019 Traffic Counts","date":"2020-08-15","value":1.084},
{"city":"ATL","series":"2019 Traffic Counts","date":"2020-09-01","value":1.078},
{"city":"ATL","series":"2019 Traffic Counts","date":"2020-09-15","value":1.067},
{"city":"ATL","series":"2019 Traffic Counts","date":"2020-10-01","value":1.084},
{"city":"ATL","series":"2019 Traffic Counts","date":"2020-10-15","value":1.071},
{"city":"ATL","series":"2019 Traffic Counts","date":"2020-11-01","value":1.067},
{"city":"ATL","series":"2019 Traffic Counts","date":"2020-11-15","value":1.063},
{"city":"ATL","series":"2019 Traffic Counts","date":"2020-12-01","value":1.036},
{"city":"ATL","series":"2019 Traffic Counts","date":"2020-12-15","value":1.046},
{"city":"ATL","series":"2019 Traffic Counts","date":"2020-12-25","value":1.046},
{"city":"ATL","series":"2019 Traffic Counts","date":"2020-12-31","value":0.984},
{"city":"LA","series":"Apple Mobility","date":"2020-01-14","value":1.0},
{"city":"LA","series":"Apple Mobility","date":"2020-01-22","value":1.03},
{"city":"LA","series":"Apple Mobility","date":"2020-02-01","value":1.015},
{"city":"LA","series":"Apple Mobility","date":"2020-02-15","value":1.01},
{"city":"LA","series":"Apple Mobility","date":"2020-02-20","value":1.01},
{"city":"LA","series":"Apple Mobility","date":"2020-02-25","value":1.094},
{"city":"LA","series":"Apple Mobility","date":"2020-03-01","value":1.09},
{"city":"LA","series":"Apple Mobility","date":"2020-03-10","value":1.08},
{"city":"LA","series":"Apple Mobility","date":"2020-03-14","value":1.04},
{"city":"LA","series":"Apple Mobility","date":"2020-03-18","value":0.90},
{"city":"LA","series":"Apple Mobility","date":"2020-03-22","value":0.715},
{"city":"LA","series":"Apple Mobility","date":"2020-03-26","value":0.547},
{"city":"LA","series":"Apple Mobility","date":"2020-04-01","value":0.443},
{"city":"LA","series":"Apple Mobility","date":"2020-04-08","value":0.39},
{"city":"LA","series":"Apple Mobility","date":"2020-04-15","value":0.38},
{"city":"LA","series":"Apple Mobility","date":"2020-04-22","value":0.40},
{"city":"LA","series":"Apple Mobility","date":"2020-05-01","value":0.464},
{"city":"LA","series":"Apple Mobility","date":"2020-05-10","value":0.547},
{"city":"LA","series":"Apple Mobility","date":"2020-05-20","value":0.63},
{"city":"LA","series":"Apple Mobility","date":"2020-06-01","value":0.713},
{"city":"LA","series":"Apple Mobility","date":"2020-06-10","value":0.797},
{"city":"LA","series":"Apple Mobility","date":"2020-06-20","value":0.86},
{"city":"LA","series":"Apple Mobility","date":"2020-07-01","value":0.90},
{"city":"LA","series":"Apple Mobility","date":"2020-07-15","value":0.88},
{"city":"LA","series":"Apple Mobility","date":"2020-08-01","value":0.92},
{"city":"LA","series":"Apple Mobility","date":"2020-08-15","value":0.967},
{"city":"LA","series":"Apple Mobility","date":"2020-09-01","value":0.994},
{"city":"LA","series":"Apple Mobility","date":"2020-09-15","value":0.994},
{"city":"LA","series":"Apple Mobility","date":"2020-10-01","value":0.963},
{"city":"LA","series":"Apple Mobility","date":"2020-10-15","value":0.94},
{"city":"LA","series":"Apple Mobility","date":"2020-11-01","value":0.93},
{"city":"LA","series":"Apple Mobility","date":"2020-11-10","value":0.867},
{"city":"LA","series":"Apple Mobility","date":"2020-11-15","value":0.847},
{"city":"LA","series":"Apple Mobility","date":"2020-11-20","value":0.857},
{"city":"LA","series":"Apple Mobility","date":"2020-11-25","value":0.815},
{"city":"LA","series":"Apple Mobility","date":"2020-12-01","value":0.786},
{"city":"LA","series":"Apple Mobility","date":"2020-12-05","value":0.734},
{"city":"LA","series":"Apple Mobility","date":"2020-12-10","value":0.755},
{"city":"LA","series":"Apple Mobility","date":"2020-12-20","value":0.776},
{"city":"LA","series":"Apple Mobility","date":"2020-12-25","value":0.815},
{"city":"LA","series":"Apple Mobility","date":"2020-12-31","value":0.75},
{"city":"LA","series":"Google Mobility","date":"2020-02-17","value":1.0},
{"city":"LA","series":"Google Mobility","date":"2020-02-25","value":1.02},
{"city":"LA","series":"Google Mobility","date":"2020-03-01","value":1.03},
{"city":"LA","series":"Google Mobility","date":"2020-03-10","value":1.02},
{"city":"LA","series":"Google Mobility","date":"2020-03-15","value":0.99},
{"city":"LA","series":"Google Mobility","date":"2020-03-20","value":0.80},
{"city":"LA","series":"Google Mobility","date":"2020-03-25","value":0.66},
{"city":"LA","series":"Google Mobility","date":"2020-04-01","value":0.576},
{"city":"LA","series":"Google Mobility","date":"2020-04-10","value":0.516},
{"city":"LA","series":"Google Mobility","date":"2020-04-20","value":0.50},
{"city":"LA","series":"Google Mobility","date":"2020-05-01","value":0.50},
{"city":"LA","series":"Google Mobility","date":"2020-05-10","value":0.535},
{"city":"LA","series":"Google Mobility","date":"2020-05-20","value":0.566},
{"city":"LA","series":"Google Mobility","date":"2020-06-01","value":0.578},
{"city":"LA","series":"Google Mobility","date":"2020-06-10","value":0.61},
{"city":"LA","series":"Google Mobility","date":"2020-06-20","value":0.66},
{"city":"LA","series":"Google Mobility","date":"2020-07-01","value":0.69},
{"city":"LA","series":"Google Mobility","date":"2020-07-15","value":0.67},
{"city":"LA","series":"Google Mobility","date":"2020-08-01","value":0.676},
{"city":"LA","series":"Google Mobility","date":"2020-08-15","value":0.676},
{"city":"LA","series":"Google Mobility","date":"2020-09-01","value":0.68},
{"city":"LA","series":"Google Mobility","date":"2020-09-15","value":0.67},
{"city":"LA","series":"Google Mobility","date":"2020-10-01","value":0.69},
{"city":"LA","series":"Google Mobility","date":"2020-10-15","value":0.693},
{"city":"LA","series":"Google Mobility","date":"2020-11-01","value":0.703},
{"city":"LA","series":"Google Mobility","date":"2020-11-15","value":0.697},
{"city":"LA","series":"Google Mobility","date":"2020-11-25","value":0.697},
{"city":"LA","series":"Google Mobility","date":"2020-12-01","value":0.65},
{"city":"LA","series":"Google Mobility","date":"2020-12-10","value":0.64},
{"city":"LA","series":"Google Mobility","date":"2020-12-20","value":0.66},
{"city":"LA","series":"Google Mobility","date":"2020-12-25","value":0.65},
{"city":"LA","series":"Google Mobility","date":"2020-12-31","value":0.605},
{"city":"LA","series":"2020 Traffic Counts","date":"2020-01-14","value":1.0},
{"city":"LA","series":"2020 Traffic Counts","date":"2020-02-01","value":1.01},
{"city":"LA","series":"2020 Traffic Counts","date":"2020-02-15","value":1.01},
{"city":"LA","series":"2020 Traffic Counts","date":"2020-03-01","value":1.044},
{"city":"LA","series":"2020 Traffic Counts","date":"2020-03-10","value":1.038},
{"city":"LA","series":"2020 Traffic Counts","date":"2020-03-15","value":0.99},
{"city":"LA","series":"2020 Traffic Counts","date":"2020-03-20","value":0.867},
{"city":"LA","series":"2020 Traffic Counts","date":"2020-03-25","value":0.755},
{"city":"LA","series":"2020 Traffic Counts","date":"2020-04-01","value":0.70},
{"city":"LA","series":"2020 Traffic Counts","date":"2020-04-10","value":0.668},
{"city":"LA","series":"2020 Traffic Counts","date":"2020-04-15","value":0.665},
{"city":"LA","series":"2020 Traffic Counts","date":"2020-04-25","value":0.71},
{"city":"LA","series":"2020 Traffic Counts","date":"2020-05-01","value":0.74},
{"city":"LA","series":"2020 Traffic Counts","date":"2020-05-10","value":0.784},
{"city":"LA","series":"2020 Traffic Counts","date":"2020-05-20","value":0.815},
{"city":"LA","series":"2020 Traffic Counts","date":"2020-06-01","value":0.836},
{"city":"LA","series":"2020 Traffic Counts","date":"2020-06-10","value":0.857},
{"city":"LA","series":"2020 Traffic Counts","date":"2020-06-20","value":0.888},
{"city":"LA","series":"2020 Traffic Counts","date":"2020-07-01","value":0.90},
{"city":"LA","series":"2020 Traffic Counts","date":"2020-07-15","value":0.884},
{"city":"LA","series":"2020 Traffic Counts","date":"2020-08-01","value":0.905},
{"city":"LA","series":"2020 Traffic Counts","date":"2020-08-15","value":0.926},
{"city":"LA","series":"2020 Traffic Counts","date":"2020-09-01","value":0.92},
{"city":"LA","series":"2020 Traffic Counts","date":"2020-09-15","value":0.92},
{"city":"LA","series":"2020 Traffic Counts","date":"2020-10-01","value":0.94},
{"city":"LA","series":"2020 Traffic Counts","date":"2020-10-15","value":0.94},
{"city":"LA","series":"2020 Traffic Counts","date":"2020-11-01","value":0.934},
{"city":"LA","series":"2020 Traffic Counts","date":"2020-11-15","value":0.913},
{"city":"LA","series":"2020 Traffic Counts","date":"2020-11-25","value":0.905},
{"city":"LA","series":"2020 Traffic Counts","date":"2020-12-01","value":0.888},
{"city":"LA","series":"2020 Traffic Counts","date":"2020-12-10","value":0.872},
{"city":"LA","series":"2020 Traffic Counts","date":"2020-12-20","value":0.878},
{"city":"LA","series":"2020 Traffic Counts","date":"2020-12-25","value":0.90},
{"city":"LA","series":"2020 Traffic Counts","date":"2020-12-31","value":0.857},
{"city":"LA","series":"2019 Traffic Counts","date":"2020-01-14","value":1.0},
{"city":"LA","series":"2019 Traffic Counts","date":"2020-02-01","value":1.01},
{"city":"LA","series":"2019 Traffic Counts","date":"2020-03-01","value":1.03},
{"city":"LA","series":"2019 Traffic Counts","date":"2020-03-15","value":1.02},
{"city":"LA","series":"2019 Traffic Counts","date":"2020-03-20","value":1.044},
{"city":"LA","series":"2019 Traffic Counts","date":"2020-04-01","value":1.065},
{"city":"LA","series":"2019 Traffic Counts","date":"2020-04-15","value":1.07},
{"city":"LA","series":"2019 Traffic Counts","date":"2020-05-01","value":1.07},
{"city":"LA","series":"2019 Traffic Counts","date":"2020-05-15","value":1.076},
{"city":"LA","series":"2019 Traffic Counts","date":"2020-05-28","value":1.055},
{"city":"LA","series":"2019 Traffic Counts","date":"2020-06-01","value":1.038},
{"city":"LA","series":"2019 Traffic Counts","date":"2020-06-15","value":1.044},
{"city":"LA","series":"2019 Traffic Counts","date":"2020-07-01","value":1.05},
{"city":"LA","series":"2019 Traffic Counts","date":"2020-07-15","value":1.048},
{"city":"LA","series":"2019 Traffic Counts","date":"2020-08-01","value":1.065},
{"city":"LA","series":"2019 Traffic Counts","date":"2020-08-15","value":1.058},
{"city":"LA","series":"2019 Traffic Counts","date":"2020-09-01","value":1.05},
{"city":"LA","series":"2019 Traffic Counts","date":"2020-09-15","value":1.07},
{"city":"LA","series":"2019 Traffic Counts","date":"2020-10-01","value":1.065},
{"city":"LA","series":"2019 Traffic Counts","date":"2020-10-15","value":1.055},
{"city":"LA","series":"2019 Traffic Counts","date":"2020-11-01","value":1.048},
{"city":"LA","series":"2019 Traffic Counts","date":"2020-11-15","value":1.044},
{"city":"LA","series":"2019 Traffic Counts","date":"2020-11-25","value":1.044},
{"city":"LA","series":"2019 Traffic Counts","date":"2020-12-01","value":1.013},
{"city":"LA","series":"2019 Traffic Counts","date":"2020-12-10","value":1.013},
{"city":"LA","series":"2019 Traffic Counts","date":"2020-12-20","value":1.044},
{"city":"LA","series":"2019 Traffic Counts","date":"2020-12-31","value":1.05},
{"city":"NYC","series":"COVID On-road Gas","date":"2020-01-15","value":1.0},
{"city":"NYC","series":"COVID On-road Gas","date":"2020-02-15","value":1.075},
{"city":"NYC","series":"COVID On-road Gas","date":"2020-03-15","value":0.92},
{"city":"NYC","series":"COVID On-road Gas","date":"2020-04-15","value":0.617},
{"city":"NYC","series":"COVID On-road Gas","date":"2020-05-15","value":0.737},
{"city":"NYC","series":"COVID On-road Gas","date":"2020-06-15","value":0.914},
{"city":"NYC","series":"COVID On-road Gas","date":"2020-07-15","value":1.016},
{"city":"NYC","series":"COVID On-road Gas","date":"2020-08-15","value":0.98},
{"city":"NYC","series":"COVID On-road Gas","date":"2020-09-15","value":1.016},
{"city":"NYC","series":"COVID On-road Gas","date":"2020-10-15","value":0.958},
{"city":"NYC","series":"COVID On-road Gas","date":"2020-11-15","value":0.908},
{"city":"NYC","series":"COVID On-road Gas","date":"2020-12-15","value":0.895},
{"city":"NYC","series":"BAU On-road Gas","date":"2020-01-15","value":1.0},
{"city":"NYC","series":"BAU On-road Gas","date":"2020-02-15","value":1.084},
{"city":"NYC","series":"BAU On-road Gas","date":"2020-03-15","value":1.105},
{"city":"NYC","series":"BAU On-road Gas","date":"2020-04-15","value":1.115},
{"city":"NYC","series":"BAU On-road Gas","date":"2020-05-15","value":1.11},
{"city":"NYC","series":"BAU On-road Gas","date":"2020-06-15","value":1.136},
{"city":"NYC","series":"BAU On-road Gas","date":"2020-07-15","value":1.13},
{"city":"NYC","series":"BAU On-road Gas","date":"2020-08-15","value":1.136},
{"city":"NYC","series":"BAU On-road Gas","date":"2020-09-15","value":1.11},
{"city":"NYC","series":"BAU On-road Gas","date":"2020-10-15","value":1.09},
{"city":"NYC","series":"BAU On-road Gas","date":"2020-11-15","value":1.078},
{"city":"NYC","series":"BAU On-road Gas","date":"2020-12-15","value":1.064},
{"city":"SF","series":"COVID On-road Gas","date":"2020-01-15","value":1.0},
{"city":"SF","series":"COVID On-road Gas","date":"2020-02-15","value":1.074},
{"city":"SF","series":"COVID On-road Gas","date":"2020-03-15","value":0.897},
{"city":"SF","series":"COVID On-road Gas","date":"2020-04-15","value":0.652},
{"city":"SF","series":"COVID On-road Gas","date":"2020-05-15","value":0.793},
{"city":"SF","series":"COVID On-road Gas","date":"2020-06-15","value":0.929},
{"city":"SF","series":"COVID On-road Gas","date":"2020-07-15","value":0.966},
{"city":"SF","series":"COVID On-road Gas","date":"2020-08-15","value":0.929},
{"city":"SF","series":"COVID On-road Gas","date":"2020-09-15","value":0.96},
{"city":"SF","series":"COVID On-road Gas","date":"2020-10-15","value":0.95},
{"city":"SF","series":"COVID On-road Gas","date":"2020-11-15","value":0.918},
{"city":"SF","series":"COVID On-road Gas","date":"2020-12-15","value":0.854},
{"city":"SF","series":"BAU On-road Gas","date":"2020-01-15","value":1.0},
{"city":"SF","series":"BAU On-road Gas","date":"2020-02-15","value":1.074},
{"city":"SF","series":"BAU On-road Gas","date":"2020-03-15","value":1.10},
{"city":"SF","series":"BAU On-road Gas","date":"2020-04-15","value":1.115},
{"city":"SF","series":"BAU On-road Gas","date":"2020-05-15","value":1.11},
{"city":"SF","series":"BAU On-road Gas","date":"2020-06-15","value":1.13},
{"city":"SF","series":"BAU On-road Gas","date":"2020-07-15","value":1.126},
{"city":"SF","series":"BAU On-road Gas","date":"2020-08-15","value":1.13},
{"city":"SF","series":"BAU On-road Gas","date":"2020-09-15","value":1.10},
{"city":"SF","series":"BAU On-road Gas","date":"2020-10-15","value":1.088},
{"city":"SF","series":"BAU On-road Gas","date":"2020-11-15","value":1.072},
{"city":"SF","series":"BAU On-road Gas","date":"2020-12-15","value":1.053},
{"city":"ATL","series":"COVID On-road Gas","date":"2020-01-15","value":1.0},
{"city":"ATL","series":"COVID On-road Gas","date":"2020-02-15","value":1.067},
{"city":"ATL","series":"COVID On-road Gas","date":"2020-03-15","value":0.96},
{"city":"ATL","series":"COVID On-road Gas","date":"2020-04-15","value":0.71},
{"city":"ATL","series":"COVID On-road Gas","date":"2020-05-15","value":0.88},
{"city":"ATL","series":"COVID On-road Gas","date":"2020-06-15","value":1.038},
{"city":"ATL","series":"COVID On-road Gas","date":"2020-07-15","value":1.094},
{"city":"ATL","series":"COVID On-road Gas","date":"2020-08-15","value":1.021},
{"city":"ATL","series":"COVID On-road Gas","date":"2020-09-15","value":1.05},
{"city":"ATL","series":"COVID On-road Gas","date":"2020-10-15","value":1.019},
{"city":"ATL","series":"COVID On-road Gas","date":"2020-11-15","value":0.98},
{"city":"ATL","series":"COVID On-road Gas","date":"2020-12-15","value":1.005},
{"city":"ATL","series":"BAU On-road Gas","date":"2020-01-15","value":1.0},
{"city":"ATL","series":"BAU On-road Gas","date":"2020-02-15","value":1.071},
{"city":"ATL","series":"BAU On-road Gas","date":"2020-03-15","value":1.105},
{"city":"ATL","series":"BAU On-road Gas","date":"2020-04-15","value":1.12},
{"city":"ATL","series":"BAU On-road Gas","date":"2020-05-15","value":1.12},
{"city":"ATL","series":"BAU On-road Gas","date":"2020-06-15","value":1.14},
{"city":"ATL","series":"BAU On-road Gas","date":"2020-07-15","value":1.14},
{"city":"ATL","series":"BAU On-road Gas","date":"2020-08-15","value":1.14},
{"city":"ATL","series":"BAU On-road Gas","date":"2020-09-15","value":1.12},
{"city":"ATL","series":"BAU On-road Gas","date":"2020-10-15","value":1.098},
{"city":"ATL","series":"BAU On-road Gas","date":"2020-11-15","value":1.082},
{"city":"ATL","series":"BAU On-road Gas","date":"2020-12-15","value":1.067},
{"city":"LA","series":"COVID On-road Gas","date":"2020-01-15","value":1.0},
{"city":"LA","series":"COVID On-road Gas","date":"2020-02-15","value":1.067},
{"city":"LA","series":"COVID On-road Gas","date":"2020-03-15","value":0.90},
{"city":"LA","series":"COVID On-road Gas","date":"2020-04-15","value":0.655},
{"city":"LA","series":"COVID On-road Gas","date":"2020-05-15","value":0.805},
{"city":"LA","series":"COVID On-road Gas","date":"2020-06-15","value":0.942},
{"city":"LA","series":"COVID On-road Gas","date":"2020-07-15","value":0.984},
{"city":"LA","series":"COVID On-road Gas","date":"2020-08-15","value":0.942},
{"city":"LA","series":"COVID On-road Gas","date":"2020-09-15","value":0.963},
{"city":"LA","series":"COVID On-road Gas","date":"2020-10-15","value":0.955},
{"city":"LA","series":"COVID On-road Gas","date":"2020-11-15","value":0.934},
{"city":"LA","series":"COVID On-road Gas","date":"2020-12-15","value":0.863},
{"city":"LA","series":"BAU On-road Gas","date":"2020-01-15","value":1.0},
{"city":"LA","series":"BAU On-road Gas","date":"2020-02-15","value":1.071},
{"city":"LA","series":"BAU On-road Gas","date":"2020-03-15","value":1.105},
{"city":"LA","series":"BAU On-road Gas","date":"2020-04-15","value":1.124},
{"city":"LA","series":"BAU On-road Gas","date":"2020-05-15","value":1.124},
{"city":"LA","series":"BAU On-road Gas","date":"2020-06-15","value":1.146},
{"city":"LA","series":"BAU On-road Gas","date":"2020-07-15","value":1.146},
{"city":"LA","series":"BAU On-road Gas","date":"2020-08-15","value":1.146},
{"city":"LA","series":"BAU On-road Gas","date":"2020-09-15","value":1.117},
{"city":"LA","series":"BAU On-road Gas","date":"2020-10-15","value":1.094},
{"city":"LA","series":"BAU On-road Gas","date":"2020-11-15","value":1.082},
{"city":"LA","series":"BAU On-road Gas","date":"2020-12-15","value":1.063}
]
},
"concat": [
  {"width": 455, "height": 234,
   "resolve": {"axis": {"x": "independent", "y": "independent"}},
   "layer": [
    {"data": {"name": "series"}, "transform": [{"filter": {"field": "city", "equal": "NYC"}}, {"filter": {"field": "series", "oneOf": ["Apple Mobility", "Google Mobility", "2020 Traffic Counts"]}}],
     "mark": {"type": "line", "strokeWidth": 2.6, "strokeJoin": "round"},
     "encoding": {
      "x": {"field": "date", "type": "temporal", "scale": {"type": "utc", "domain": [1577836800000, 1609545600000], "nice": false}, "axis": {"orient": "bottom", "values": [1577836800000,1580515200000,1583020800000,1585699200000,1588291200000,1590969600000,1593561600000,1596240000000,1598918400000,1601510400000,1604188800000,1606780800000], "format": "%b", "grid": true, "labelFlush": false, "labelOverlap": false, "labelPadding": 7, "title": null}},
      "y": {"field": "value", "type": "quantitative", "scale": {"domain": [0, 1.45], "nice": false, "zero": false}, "axis": {"orient": "left", "values": [0,0.2,0.4,0.6,0.8,1,1.2,1.4], "format": "~g", "grid": true, "labelPadding": 3, "title": ["Jan Normalized", "14-day Rolling Avg"], "titlePadding": 6, "titleLineHeight": 24}},
      "color": {"field": "series", "type": "nominal", "scale": {"domain": ["Apple Mobility","Google Mobility","2020 Traffic Counts","2019 Traffic Counts","COVID On-road Gas","BAU On-road Gas"], "range": ["#80c6de","#1f6cb0","#000000","#000000","#1d9e1d","#1d9e1d"]},
       "legend": {"orient": "none", "legendX": -49, "legendY": 558, "direction": "horizontal", "title": null, "labelFont": "Liberation Sans", "labelFontSize": 16, "labelColor": "#000000", "labelOffset": 3, "symbolType": "stroke", "symbolSize": 1296, "symbolStrokeWidth": 2.5, "clipHeight": 16, "columnPadding": 9.5, "padding": 4, "strokeColor": "#262626", "fillColor": "#ffffff",
        "encode": {"symbols": {"update": {
          "shape": {"signal": "datum.value == 'COVID On-road Gas' ? 'square' : datum.value == 'BAU On-road Gas' ? 'M0,-1L0.68,0L0,1L-0.68,0Z' : 'stroke'"},
          "size": {"signal": "datum.value == 'COVID On-road Gas' ? 64 : datum.value == 'BAU On-road Gas' ? 156 : 1296"},
          "strokeDash": {"signal": "datum.value == '2019 Traffic Counts' ? [9, 7] : [1, 0]"},
          "fill": {"value": "transparent"},
          "strokeWidth": {"value": 2.5}}}}}}
     }},
    {"data": {"name": "series"}, "transform": [{"filter": {"field": "city", "equal": "NYC"}}, {"filter": {"field": "series", "equal": "2019 Traffic Counts"}}],
     "mark": {"type": "line", "strokeWidth": 2.6, "strokeDash": [10, 6]},
     "encoding": {
      "x": {"field": "date", "type": "temporal", "axis": {"orient": "top", "values": [1577836800000,1580515200000,1583020800000,1585699200000,1588291200000,1590969600000,1593561600000,1596240000000,1598918400000,1601510400000,1604188800000,1606780800000], "labels": false, "grid": false, "title": null}},
      "y": {"field": "value", "type": "quantitative", "axis": {"orient": "right", "values": [0,0.2,0.4,0.6,0.8,1,1.2,1.4], "labels": false, "grid": false, "title": null}},
      "color": {"field": "series", "type": "nominal", "legend": null}
     }},
    {"data": {"name": "events"}, "transform": [{"filter": {"field": "city", "equal": "NYC"}}],
     "mark": {"type": "rule", "color": "#a51f3d", "strokeWidth": 2.4, "strokeDash": [8, 5]},
     "encoding": {"x": {"field": "date", "type": "temporal", "axis": null}}},
    {"data": {"name": "series"}, "transform": [{"filter": {"field": "city", "equal": "NYC"}}, {"filter": {"field": "series", "equal": "COVID On-road Gas"}}],
     "mark": {"type": "point", "shape": "square", "filled": false, "size": 64, "strokeWidth": 2.5, "opacity": 1},
     "encoding": {
      "x": {"field": "date", "type": "temporal", "axis": null},
      "y": {"field": "value", "type": "quantitative", "axis": {"orient": "left", "values": [0.05,0.1,0.15,0.25,0.3,0.35,0.45,0.5,0.55,0.65,0.7,0.75,0.85,0.9,0.95,1.05,1.1,1.15,1.25,1.3,1.35], "labels": false, "grid": false, "tickSize": 3, "title": null}},
      "color": {"field": "series", "type": "nominal", "legend": null}
     }},
    {"data": {"name": "series"}, "transform": [{"filter": {"field": "city", "equal": "NYC"}}, {"filter": {"field": "series", "equal": "BAU On-road Gas"}}],
     "mark": {"type": "point", "shape": "M0,-1L0.68,0L0,1L-0.68,0Z", "filled": false, "size": 156, "strokeWidth": 2.5, "opacity": 1},
     "encoding": {
      "x": {"field": "date", "type": "temporal", "axis": null},
      "y": {"field": "value", "type": "quantitative", "axis": {"orient": "right", "values": [0.05,0.1,0.15,0.25,0.3,0.35,0.45,0.5,0.55,0.65,0.7,0.75,0.85,0.9,0.95,1.05,1.1,1.15,1.25,1.3,1.35], "labels": false, "grid": false, "tickSize": 3, "title": null}},
      "color": {"field": "series", "type": "nominal", "legend": null}
     }},
    {"data": {"name": "panels"}, "transform": [{"filter": {"field": "city", "equal": "NYC"}}],
     "mark": {"type": "text", "fontSize": 15, "color": "#000000"},
     "encoding": {"x": {"datum": {"year": 2020, "month": 1, "date": 19, "utc": true}, "type": "temporal", "axis": null}, "y": {"datum": 1.527, "type": "quantitative", "axis": null}, "text": {"field": "label"}}},
    {"data": {"name": "panels"}, "transform": [{"filter": {"field": "city", "equal": "NYC"}}],
     "mark": {"type": "text", "fontSize": 17, "fontWeight": "bold", "color": "#000000"},
     "encoding": {"x": {"datum": {"year": 2020, "month": 7, "date": 2, "hours": 12, "utc": true}, "type": "temporal", "axis": null}, "y": {"datum": 1.512, "type": "quantitative", "axis": null}, "text": {"field": "title"}}},
    {"data": {"name": "notes"},
     "mark": {"type": "text", "fontSize": 12.5, "align": "right", "baseline": "middle", "color": "#000000"},
     "encoding": {"x": {"field": "date", "type": "temporal", "axis": null}, "y": {"field": "value", "type": "quantitative", "axis": null}, "text": {"field": "text"}}},
    {"data": {"name": "arrows"},
     "mark": {"type": "rule", "color": "#000000", "strokeWidth": 1},
     "encoding": {"x": {"field": "date", "type": "temporal", "axis": null}, "y": {"field": "value", "type": "quantitative", "axis": null}, "x2": {"field": "date2"}, "y2": {"field": "value2"}}},
    {"data": {"name": "arrows"}, "transform": [{"filter": {"field": "id", "equal": 1}}],
     "mark": {"type": "point", "shape": "triangle", "filled": true, "size": 45, "angle": 130, "color": "#000000", "opacity": 1},
     "encoding": {"x": {"field": "date2", "type": "temporal", "axis": null}, "y": {"field": "value2", "type": "quantitative", "axis": null}}},
    {"data": {"name": "arrows"}, "transform": [{"filter": {"field": "id", "equal": 2}}],
     "mark": {"type": "point", "shape": "triangle", "filled": true, "size": 45, "angle": 238, "color": "#000000", "opacity": 1},
     "encoding": {"x": {"field": "date2", "type": "temporal", "axis": null}, "y": {"field": "value2", "type": "quantitative", "axis": null}}}
   ]},
  {"width": 455, "height": 234,
   "resolve": {"axis": {"x": "independent", "y": "independent"}},
   "layer": [
    {"data": {"name": "series"}, "transform": [{"filter": {"field": "city", "equal": "SF"}}, {"filter": {"field": "series", "oneOf": ["Apple Mobility", "Google Mobility", "2020 Traffic Counts"]}}],
     "mark": {"type": "line", "strokeWidth": 2.6, "strokeJoin": "round"},
     "encoding": {
      "x": {"field": "date", "type": "temporal", "scale": {"type": "utc", "domain": [1577836800000, 1609545600000], "nice": false}, "axis": {"orient": "bottom", "values": [1577836800000,1580515200000,1583020800000,1585699200000,1588291200000,1590969600000,1593561600000,1596240000000,1598918400000,1601510400000,1604188800000,1606780800000], "format": "%b", "grid": true, "labelFlush": false, "labelOverlap": false, "labelPadding": 7, "title": null}},
      "y": {"field": "value", "type": "quantitative", "scale": {"domain": [0, 1.45], "nice": false, "zero": false}, "axis": {"orient": "left", "values": [0,0.2,0.4,0.6,0.8,1,1.2,1.4], "format": "~g", "grid": true, "labelPadding": 3, "title": null}},
      "color": {"field": "series", "type": "nominal", "legend": null}
     }},
    {"data": {"name": "series"}, "transform": [{"filter": {"field": "city", "equal": "SF"}}, {"filter": {"field": "series", "equal": "2019 Traffic Counts"}}],
     "mark": {"type": "line", "strokeWidth": 2.6, "strokeDash": [10, 6]},
     "encoding": {
      "x": {"field": "date", "type": "temporal", "axis": {"orient": "top", "values": [1577836800000,1580515200000,1583020800000,1585699200000,1588291200000,1590969600000,1593561600000,1596240000000,1598918400000,1601510400000,1604188800000,1606780800000], "labels": false, "grid": false, "title": null}},
      "y": {"field": "value", "type": "quantitative", "axis": {"orient": "right", "values": [0,0.2,0.4,0.6,0.8,1,1.2,1.4], "labels": false, "grid": false, "title": null}},
      "color": {"field": "series", "type": "nominal", "legend": null}
     }},
    {"data": {"name": "events"}, "transform": [{"filter": {"field": "city", "equal": "SF"}}],
     "mark": {"type": "rule", "color": "#a51f3d", "strokeWidth": 2.4, "strokeDash": [8, 5]},
     "encoding": {"x": {"field": "date", "type": "temporal", "axis": null}}},
    {"data": {"name": "series"}, "transform": [{"filter": {"field": "city", "equal": "SF"}}, {"filter": {"field": "series", "equal": "COVID On-road Gas"}}],
     "mark": {"type": "point", "shape": "square", "filled": false, "size": 64, "strokeWidth": 2.5, "opacity": 1},
     "encoding": {
      "x": {"field": "date", "type": "temporal", "axis": null},
      "y": {"field": "value", "type": "quantitative", "axis": {"orient": "left", "values": [0.05,0.1,0.15,0.25,0.3,0.35,0.45,0.5,0.55,0.65,0.7,0.75,0.85,0.9,0.95,1.05,1.1,1.15,1.25,1.3,1.35], "labels": false, "grid": false, "tickSize": 3, "title": null}},
      "color": {"field": "series", "type": "nominal", "legend": null}
     }},
    {"data": {"name": "series"}, "transform": [{"filter": {"field": "city", "equal": "SF"}}, {"filter": {"field": "series", "equal": "BAU On-road Gas"}}],
     "mark": {"type": "point", "shape": "M0,-1L0.68,0L0,1L-0.68,0Z", "filled": false, "size": 156, "strokeWidth": 2.5, "opacity": 1},
     "encoding": {
      "x": {"field": "date", "type": "temporal", "axis": null},
      "y": {"field": "value", "type": "quantitative", "axis": {"orient": "right", "values": [0.05,0.1,0.15,0.25,0.3,0.35,0.45,0.5,0.55,0.65,0.7,0.75,0.85,0.9,0.95,1.05,1.1,1.15,1.25,1.3,1.35], "labels": false, "grid": false, "tickSize": 3, "title": null}},
      "color": {"field": "series", "type": "nominal", "legend": null}
     }},
    {"data": {"name": "panels"}, "transform": [{"filter": {"field": "city", "equal": "SF"}}],
     "mark": {"type": "text", "fontSize": 15, "color": "#000000"},
     "encoding": {"x": {"datum": {"year": 2020, "month": 1, "date": 19, "utc": true}, "type": "temporal", "axis": null}, "y": {"datum": 1.527, "type": "quantitative", "axis": null}, "text": {"field": "label"}}},
    {"data": {"name": "panels"}, "transform": [{"filter": {"field": "city", "equal": "SF"}}],
     "mark": {"type": "text", "fontSize": 17, "fontWeight": "bold", "color": "#000000"},
     "encoding": {"x": {"datum": {"year": 2020, "month": 7, "date": 2, "hours": 12, "utc": true}, "type": "temporal", "axis": null}, "y": {"datum": 1.512, "type": "quantitative", "axis": null}, "text": {"field": "title"}}}
   ]},
  {"width": 455, "height": 234,
   "resolve": {"axis": {"x": "independent", "y": "independent"}},
   "layer": [
    {"data": {"name": "series"}, "transform": [{"filter": {"field": "city", "equal": "ATL"}}, {"filter": {"field": "series", "oneOf": ["Apple Mobility", "Google Mobility", "2020 Traffic Counts"]}}],
     "mark": {"type": "line", "strokeWidth": 2.6, "strokeJoin": "round"},
     "encoding": {
      "x": {"field": "date", "type": "temporal", "scale": {"type": "utc", "domain": [1577836800000, 1609545600000], "nice": false}, "axis": {"orient": "bottom", "values": [1577836800000,1580515200000,1583020800000,1585699200000,1588291200000,1590969600000,1593561600000,1596240000000,1598918400000,1601510400000,1604188800000,1606780800000], "format": "%b", "grid": true, "labelFlush": false, "labelOverlap": false, "labelPadding": 7, "title": null}},
      "y": {"field": "value", "type": "quantitative", "scale": {"domain": [0, 1.45], "nice": false, "zero": false}, "axis": {"orient": "left", "values": [0,0.2,0.4,0.6,0.8,1,1.2,1.4], "format": "~g", "grid": true, "labelPadding": 3, "title": ["Jan Normalized", "14-day Rolling Avg"], "titlePadding": 6, "titleLineHeight": 24}},
      "color": {"field": "series", "type": "nominal", "legend": null}
     }},
    {"data": {"name": "series"}, "transform": [{"filter": {"field": "city", "equal": "ATL"}}, {"filter": {"field": "series", "equal": "2019 Traffic Counts"}}],
     "mark": {"type": "line", "strokeWidth": 2.6, "strokeDash": [10, 6]},
     "encoding": {
      "x": {"field": "date", "type": "temporal", "axis": {"orient": "top", "values": [1577836800000,1580515200000,1583020800000,1585699200000,1588291200000,1590969600000,1593561600000,1596240000000,1598918400000,1601510400000,1604188800000,1606780800000], "labels": false, "grid": false, "title": null}},
      "y": {"field": "value", "type": "quantitative", "axis": {"orient": "right", "values": [0,0.2,0.4,0.6,0.8,1,1.2,1.4], "labels": false, "grid": false, "title": null}},
      "color": {"field": "series", "type": "nominal", "legend": null}
     }},
    {"data": {"name": "events"}, "transform": [{"filter": {"field": "city", "equal": "ATL"}}],
     "mark": {"type": "rule", "color": "#a51f3d", "strokeWidth": 2.4, "strokeDash": [8, 5]},
     "encoding": {"x": {"field": "date", "type": "temporal", "axis": null}}},
    {"data": {"name": "series"}, "transform": [{"filter": {"field": "city", "equal": "ATL"}}, {"filter": {"field": "series", "equal": "COVID On-road Gas"}}],
     "mark": {"type": "point", "shape": "square", "filled": false, "size": 64, "strokeWidth": 2.5, "opacity": 1},
     "encoding": {
      "x": {"field": "date", "type": "temporal", "axis": null},
      "y": {"field": "value", "type": "quantitative", "axis": {"orient": "left", "values": [0.05,0.1,0.15,0.25,0.3,0.35,0.45,0.5,0.55,0.65,0.7,0.75,0.85,0.9,0.95,1.05,1.1,1.15,1.25,1.3,1.35], "labels": false, "grid": false, "tickSize": 3, "title": null}},
      "color": {"field": "series", "type": "nominal", "legend": null}
     }},
    {"data": {"name": "series"}, "transform": [{"filter": {"field": "city", "equal": "ATL"}}, {"filter": {"field": "series", "equal": "BAU On-road Gas"}}],
     "mark": {"type": "point", "shape": "M0,-1L0.68,0L0,1L-0.68,0Z", "filled": false, "size": 156, "strokeWidth": 2.5, "opacity": 1},
     "encoding": {
      "x": {"field": "date", "type": "temporal", "axis": null},
      "y": {"field": "value", "type": "quantitative", "axis": {"orient": "right", "values": [0.05,0.1,0.15,0.25,0.3,0.35,0.45,0.5,0.55,0.65,0.7,0.75,0.85,0.9,0.95,1.05,1.1,1.15,1.25,1.3,1.35], "labels": false, "grid": false, "tickSize": 3, "title": null}},
      "color": {"field": "series", "type": "nominal", "legend": null}
     }},
    {"data": {"name": "panels"}, "transform": [{"filter": {"field": "city", "equal": "ATL"}}],
     "mark": {"type": "text", "fontSize": 15, "color": "#000000"},
     "encoding": {"x": {"datum": {"year": 2020, "month": 1, "date": 19, "utc": true}, "type": "temporal", "axis": null}, "y": {"datum": 1.527, "type": "quantitative", "axis": null}, "text": {"field": "label"}}},
    {"data": {"name": "panels"}, "transform": [{"filter": {"field": "city", "equal": "ATL"}}],
     "mark": {"type": "text", "fontSize": 17, "fontWeight": "bold", "color": "#000000"},
     "encoding": {"x": {"datum": {"year": 2020, "month": 7, "date": 2, "hours": 12, "utc": true}, "type": "temporal", "axis": null}, "y": {"datum": 1.512, "type": "quantitative", "axis": null}, "text": {"field": "title"}}}
   ]},
  {"width": 455, "height": 234,
   "resolve": {"axis": {"x": "independent", "y": "independent"}},
   "layer": [
    {"data": {"name": "series"}, "transform": [{"filter": {"field": "city", "equal": "LA"}}, {"filter": {"field": "series", "oneOf": ["Apple Mobility", "Google Mobility", "2020 Traffic Counts"]}}],
     "mark": {"type": "line", "strokeWidth": 2.6, "strokeJoin": "round"},
     "encoding": {
      "x": {"field": "date", "type": "temporal", "scale": {"type": "utc", "domain": [1577836800000, 1609545600000], "nice": false}, "axis": {"orient": "bottom", "values": [1577836800000,1580515200000,1583020800000,1585699200000,1588291200000,1590969600000,1593561600000,1596240000000,1598918400000,1601510400000,1604188800000,1606780800000], "format": "%b", "grid": true, "labelFlush": false, "labelOverlap": false, "labelPadding": 7, "title": null}},
      "y": {"field": "value", "type": "quantitative", "scale": {"domain": [0, 1.45], "nice": false, "zero": false}, "axis": {"orient": "left", "values": [0,0.2,0.4,0.6,0.8,1,1.2,1.4], "format": "~g", "grid": true, "labelPadding": 3, "title": null}},
      "color": {"field": "series", "type": "nominal", "legend": null}
     }},
    {"data": {"name": "series"}, "transform": [{"filter": {"field": "city", "equal": "LA"}}, {"filter": {"field": "series", "equal": "2019 Traffic Counts"}}],
     "mark": {"type": "line", "strokeWidth": 2.6, "strokeDash": [10, 6]},
     "encoding": {
      "x": {"field": "date", "type": "temporal", "axis": {"orient": "top", "values": [1577836800000,1580515200000,1583020800000,1585699200000,1588291200000,1590969600000,1593561600000,1596240000000,1598918400000,1601510400000,1604188800000,1606780800000], "labels": false, "grid": false, "title": null}},
      "y": {"field": "value", "type": "quantitative", "axis": {"orient": "right", "values": [0,0.2,0.4,0.6,0.8,1,1.2,1.4], "labels": false, "grid": false, "title": null}},
      "color": {"field": "series", "type": "nominal", "legend": null}
     }},
    {"data": {"name": "events"}, "transform": [{"filter": {"field": "city", "equal": "LA"}}],
     "mark": {"type": "rule", "color": "#a51f3d", "strokeWidth": 2.4, "strokeDash": [8, 5]},
     "encoding": {"x": {"field": "date", "type": "temporal", "axis": null}}},
    {"data": {"name": "series"}, "transform": [{"filter": {"field": "city", "equal": "LA"}}, {"filter": {"field": "series", "equal": "COVID On-road Gas"}}],
     "mark": {"type": "point", "shape": "square", "filled": false, "size": 64, "strokeWidth": 2.5, "opacity": 1},
     "encoding": {
      "x": {"field": "date", "type": "temporal", "axis": null},
      "y": {"field": "value", "type": "quantitative", "axis": {"orient": "left", "values": [0.05,0.1,0.15,0.25,0.3,0.35,0.45,0.5,0.55,0.65,0.7,0.75,0.85,0.9,0.95,1.05,1.1,1.15,1.25,1.3,1.35], "labels": false, "grid": false, "tickSize": 3, "title": null}},
      "color": {"field": "series", "type": "nominal", "legend": null}
     }},
    {"data": {"name": "series"}, "transform": [{"filter": {"field": "city", "equal": "LA"}}, {"filter": {"field": "series", "equal": "BAU On-road Gas"}}],
     "mark": {"type": "point", "shape": "M0,-1L0.68,0L0,1L-0.68,0Z", "filled": false, "size": 156, "strokeWidth": 2.5, "opacity": 1},
     "encoding": {
      "x": {"field": "date", "type": "temporal", "axis": null},
      "y": {"field": "value", "type": "quantitative", "axis": {"orient": "right", "values": [0.05,0.1,0.15,0.25,0.3,0.35,0.45,0.5,0.55,0.65,0.7,0.75,0.85,0.9,0.95,1.05,1.1,1.15,1.25,1.3,1.35], "labels": false, "grid": false, "tickSize": 3, "title": null}},
      "color": {"field": "series", "type": "nominal", "legend": null}
     }},
    {"data": {"name": "panels"}, "transform": [{"filter": {"field": "city", "equal": "LA"}}],
     "mark": {"type": "text", "fontSize": 15, "color": "#000000"},
     "encoding": {"x": {"datum": {"year": 2020, "month": 1, "date": 19, "utc": true}, "type": "temporal", "axis": null}, "y": {"datum": 1.527, "type": "quantitative", "axis": null}, "text": {"field": "label"}}},
    {"data": {"name": "panels"}, "transform": [{"filter": {"field": "city", "equal": "LA"}}],
     "mark": {"type": "text", "fontSize": 17, "fontWeight": "bold", "color": "#000000"},
     "encoding": {"x": {"datum": {"year": 2020, "month": 7, "date": 2, "hours": 12, "utc": true}, "type": "temporal", "axis": null}, "y": {"datum": 1.512, "type": "quantitative", "axis": null}, "text": {"field": "title"}}}
   ]},
  {"width": 455, "height": 165,
   "view": {"stroke": null},
   "data": {"name": "caption"},
   "encoding": {
    "x": {"datum": 0, "type": "quantitative", "scale": {"domain": [0, 1]}, "axis": null},
    "y": {"field": "line", "type": "quantitative", "scale": {"domain": [-0.615, 7], "reverse": true}, "axis": null},
    "text": {"field": "text"}
   },
   "layer": [
    {"transform": [{"filter": {"field": "part", "equal": "bold"}}], "mark": {"type": "text", "align": "left", "baseline": "middle", "font": "Liberation Serif", "fontSize": 21, "fontWeight": "bold", "color": "#231f20", "dx": -85}},
    {"transform": [{"filter": {"field": "part", "equal": "first"}}], "mark": {"type": "text", "align": "left", "baseline": "middle", "font": "Liberation Serif", "fontSize": 21, "color": "#231f20", "dx": 1}},
    {"transform": [{"filter": {"field": "part", "equal": "body"}}], "mark": {"type": "text", "align": "left", "baseline": "middle", "font": "Liberation Serif", "fontSize": 21, "color": "#231f20", "dx": -85}},
    {"transform": [{"filter": {"field": "part", "equal": "link"}}], "mark": {"type": "text", "align": "left", "baseline": "middle", "font": "Liberation Serif", "fontSize": 21, "color": "#2a7ab8", "dx": 296}},
    {"transform": [{"filter": {"field": "part", "equal": "after"}}], "mark": {"type": "text", "align": "left", "baseline": "middle", "font": "Liberation Serif", "fontSize": 21, "color": "#231f20", "dx": 322.5}}
   ]}
],
"columns": 2,
"spacing": {"row": 55, "column": 71},
"bounds": "flush",
"align": "none"
}
